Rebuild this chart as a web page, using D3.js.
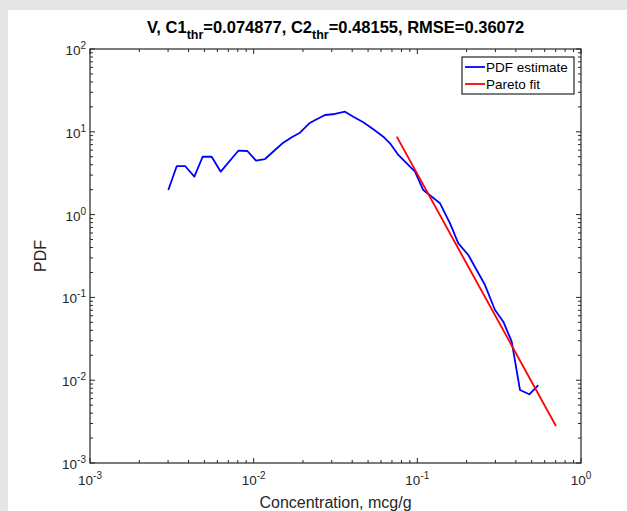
<!DOCTYPE html>
<html>
<head>
<meta charset="utf-8">
<script src="https://cdn.jsdelivr.net/npm/d3@7"></script>
<style>
  html, body { margin: 0; padding: 0; background: #e6e6e6; }
  svg { display: block; font-family: "Liberation Sans", Arial, sans-serif; }
</style>
</head>
<body>
<script>
// PDF estimate (blue)
var pdfX = [0.00301, 0.00339, 0.00381, 0.00434, 0.00488, 0.00554, 0.00629, 0.00806, 0.00915,
    0.01033, 0.01173, 0.0135, 0.01517, 0.01708, 0.01919, 0.02188, 0.02427, 0.02729, 0.03141,
    0.03614, 0.04062, 0.04675, 0.05381, 0.06194, 0.06808, 0.07651, 0.09676, 0.1087, 0.1376,
    0.1584, 0.178, 0.2049, 0.2591, 0.2982, 0.3352, 0.3772, 0.4239, 0.4831, 0.5483];
var pdfY = [1.98, 3.86, 3.86, 2.87, 5.0, 5.0, 3.3, 5.91, 5.86,
    4.48, 4.69, 6.03, 7.39, 8.58, 9.75, 12.67, 14.16, 15.95, 16.41,
    17.49, 15.22, 13.02, 10.72, 8.73, 7.26, 5.25, 3.3, 1.98, 1.37,
    0.785, 0.45, 0.325, 0.141, 0.0705, 0.0509, 0.0292, 0.00762, 0.00676, 0.00875];

// Pareto fit (red)
var fitX = [0.074877, 0.703];
var fitY = [8.73, 0.0028];

var xDomain = [1e-3, 1];
var yDomain = [1e-3, 1e2];
var legendLabels = ["PDF estimate", "Pareto fit"];
var legendColors = ["#0000ff", "#ff0000"];

var width = 627, height = 511;
var margin = { left: 90, right: 46, top: 49, bottom: 48 };

var svg = d3.select("body").append("svg")
    .attr("width", width)
    .attr("height", height);

// white figure panel
svg.append("rect")
    .attr("x", 8).attr("y", 10)
    .attr("width", width - 8).attr("height", height - 10)
    .attr("fill", "#ffffff");

var x = d3.scaleLog().domain(xDomain).range([margin.left, width - margin.right]);
var y = d3.scaleLog().domain(yDomain).range([height - margin.bottom, margin.top]);

var axisColor = "#262626";

function ticksFor(domain) {
    var out = [];
    for (var e = Math.round(Math.log10(domain[0])); e < Math.round(Math.log10(domain[1])); e++) {
        for (var m = 1; m < 10; m++) out.push({ v: m * Math.pow(10, e), major: m === 1 });
    }
    out.push({ v: domain[1], major: true });
    return out;
}

var xt = ticksFor(xDomain);
var yt = ticksFor(yDomain);
var x0 = x.range()[0], x1 = x.range()[1];
var y0 = y.range()[0], y1 = y.range()[1];

var ticks = svg.append("g").attr("stroke", axisColor).attr("stroke-width", 1);

// x ticks on bottom and top, pointing inward
xt.forEach(function (t) {
    var len = t.major ? 5 : 3;
    var px = x(t.v);
    ticks.append("line").attr("x1", px).attr("x2", px).attr("y1", y0).attr("y2", y0 - len);
    ticks.append("line").attr("x1", px).attr("x2", px).attr("y1", y1).attr("y2", y1 + len);
});
// y ticks on left and right
yt.forEach(function (t) {
    var len = t.major ? 5 : 3;
    var py = y(t.v);
    ticks.append("line").attr("x1", x0).attr("x2", x0 + len).attr("y1", py).attr("y2", py);
    ticks.append("line").attr("x1", x1).attr("x2", x1 - len).attr("y1", py).attr("y2", py);
});

// data lines
var line = d3.line()
    .x(function (d) { return x(d[0]); })
    .y(function (d) { return y(d[1]); });

svg.append("path")
    .datum(d3.zip(pdfX, pdfY))
    .attr("d", line)
    .attr("fill", "none")
    .attr("stroke", legendColors[0])
    .attr("stroke-width", 1.8)
    .attr("stroke-linejoin", "round");

svg.append("path")
    .datum(d3.zip(fitX, fitY))
    .attr("d", line)
    .attr("fill", "none")
    .attr("stroke", legendColors[1])
    .attr("stroke-width", 1.8);

// axes box
svg.append("rect")
    .attr("x", x0).attr("y", y1)
    .attr("width", x1 - x0).attr("height", y0 - y1)
    .attr("fill", "none")
    .attr("stroke", axisColor)
    .attr("stroke-width", 1.2);

// tick labels with superscripts
function powLabel(sel, v) {
    var e = Math.round(Math.log10(v));
    sel.append("tspan").text("10");
    sel.append("tspan").attr("dy", -6).attr("font-size", 10).text(e);
}

xt.filter(function (t) { return t.major; }).forEach(function (t) {
    var txt = svg.append("text")
        .attr("x", x(t.v)).attr("y", y0 + 22)
        .attr("text-anchor", "middle")
        .attr("font-size", 13.5)
        .attr("fill", axisColor);
    powLabel(txt, t.v);
});

yt.filter(function (t) { return t.major; }).forEach(function (t) {
    var txt = svg.append("text")
        .attr("x", x0 - 4).attr("y", y(t.v) + 6)
        .attr("text-anchor", "end")
        .attr("font-size", 13.5)
        .attr("fill", axisColor);
    powLabel(txt, t.v);
});

// axis labels
svg.append("text")
    .attr("x", (x0 + x1) / 2).attr("y", 508)
    .attr("text-anchor", "middle")
    .attr("font-size", 16)
    .attr("fill", axisColor)
    .text("Concentration, mcg/g");

svg.append("text")
    .attr("transform", "translate(46," + ((y0 + y1) / 2) + ") rotate(-90)")
    .attr("text-anchor", "middle")
    .attr("font-size", 16)
    .attr("fill", axisColor)
    .text("PDF");

// title
var title = svg.append("text")
    .attr("x", (x0 + x1) / 2).attr("y", 33)
    .attr("text-anchor", "middle")
    .attr("font-size", 16.5)
    .attr("font-weight", "bold")
    .attr("fill", "#000");
title.append("tspan").text("V, C1");
title.append("tspan").attr("dy", 6).attr("font-size", 12.5).text("thr");
title.append("tspan").attr("dy", -6).text("=0.074877, C2");
title.append("tspan").attr("dy", 6).attr("font-size", 12.5).text("thr");
title.append("tspan").attr("dy", -6).text("=0.48155, RMSE=0.36072");

// legend
var lg = svg.append("g");
lg.append("rect")
    .attr("x", 462).attr("y", 57)
    .attr("width", 112).attr("height", 37)
    .attr("fill", "#fff")
    .attr("stroke", axisColor)
    .attr("stroke-width", 1.2);

legendLabels.forEach(function (name, i) {
    var ly = 67 + i * 17;
    lg.append("line")
        .attr("x1", 465).attr("x2", 485)
        .attr("y1", ly).attr("y2", ly)
        .attr("stroke", legendColors[i])
        .attr("stroke-width", 1.8);
    lg.append("text")
        .attr("x", 486).attr("y", ly + 5)
        .attr("font-size", 13.5)
        .attr("fill", "#000")
        .text(name);
});
</script>
</body>
</html>
